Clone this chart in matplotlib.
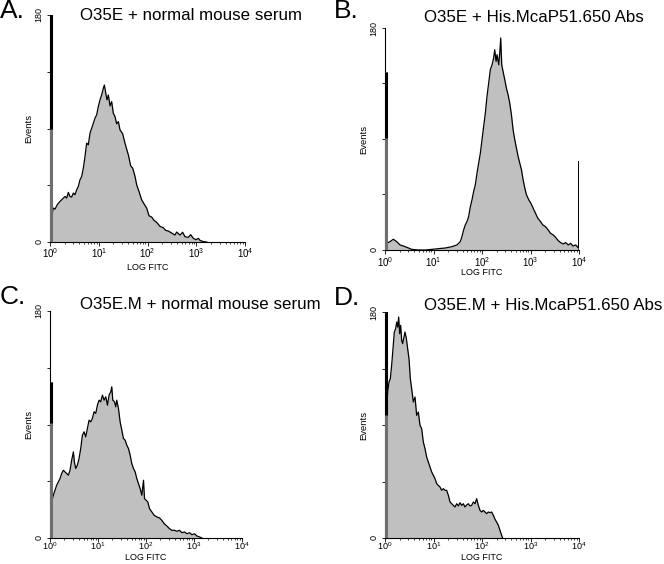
import numpy as np
import matplotlib
matplotlib.use("Agg")
import matplotlib.pyplot as plt
from matplotlib.ticker import FixedLocator, LogLocator, NullFormatter

plt.rcParams['font.family'] = ['Liberation Sans', 'DejaVu Sans']
plt.rcParams['mathtext.fontset'] = 'custom'
plt.rcParams['mathtext.rm'] = 'Liberation Sans'
plt.rcParams['mathtext.it'] = 'Liberation Sans'
plt.rcParams['mathtext.default'] = 'regular'

# ---------------- data (log10 FITC position, event counts) ----------------
titles = ["O35E + normal mouse serum", "O35E + His.McaP51.650 Abs",
          "O35E.M + normal mouse serum", "O35E.M + His.McaP51.650 Abs"]
letters = ["A.", "B.", "C.", "D."]

a_log = [0.034, 0.068, 0.103, 0.150, 0.205, 0.253, 0.308, 0.342, 0.376, 0.410, 0.444, 0.479,
         0.513, 0.547, 0.581, 0.615, 0.650, 0.684, 0.718, 0.752, 0.786, 0.821, 0.855, 0.889,
         0.923, 0.957, 0.991, 1.026, 1.060, 1.094, 1.115, 1.142, 1.169, 1.197, 1.231, 1.265,
         1.299, 1.333, 1.368, 1.402, 1.436, 1.491, 1.538, 1.573, 1.607, 1.655, 1.696, 1.744,
         1.778, 1.832, 1.880, 1.928, 1.983, 2.031, 2.085, 2.133, 2.188, 2.256, 2.325, 2.373,
         2.427, 2.496, 2.564, 2.598, 2.667, 2.721, 2.769, 2.838, 2.885, 2.940, 2.995, 3.043,
         3.077, 3.145, 3.214]
a_cnt = [20.3, 26.9, 26.1, 29.6, 32.2, 34.0, 36.1, 34.8, 39.3, 36.1, 35.6, 38.8,
         37.5, 41.4, 44.1, 49.3, 52.0, 58.6, 67.8, 78.4, 77.0, 86.3, 90.2, 94.2,
         98.2, 100.8, 107.4, 112.7, 116.6, 121.9, 124.5, 118.5, 112.7, 116.6, 107.9, 111.3,
         102.1, 99.5, 93.7, 95.5, 88.9, 85.8, 78.4, 73.6, 69.1, 60.4, 58.6, 52.0,
         45.4, 39.3, 33.5, 30.3, 26.9, 20.8, 19.8, 17.2, 15.6, 12.4, 11.3, 9.2,
         8.7, 7.1, 5.5, 7.9, 5.5, 7.7, 4.2, 3.7, 5.8, 2.9, 1.8, 2.9,
         1.3, 0.3, 0.0]

b_log = [0.034, 0.103, 0.172, 0.241, 0.310, 0.379, 0.448, 0.552, 0.690, 0.828, 0.966, 1.103,
         1.241, 1.379, 1.483, 1.552, 1.586, 1.621, 1.655, 1.690, 1.724, 1.759, 1.793, 1.828,
         1.862, 1.897, 1.931, 1.966, 2.000, 2.034, 2.069, 2.103, 2.138, 2.172, 2.207, 2.241,
         2.262, 2.290, 2.310, 2.345, 2.366, 2.386, 2.407, 2.434, 2.469, 2.503, 2.538, 2.572,
         2.607, 2.641, 2.676, 2.710, 2.745, 2.779, 2.814, 2.848, 2.883, 2.917, 2.966, 3.014,
         3.055, 3.103, 3.152, 3.207, 3.255, 3.310, 3.366, 3.414, 3.469, 3.517, 3.572, 3.621,
         3.676, 3.724, 3.779, 3.828, 3.876, 3.931, 3.979]
b_cnt = [5.4, 6.8, 8.7, 6.8, 4.1, 3.2, 2.2, 0.5, 0.0, 0.0, 0.5, 1.1,
         1.6, 2.7, 4.1, 6.8, 10.8, 16.2, 20.3, 23.0, 27.0, 35.0, 40.6, 47.4,
         52.8, 62.3, 70.4, 78.5, 89.3, 100.2, 111.0, 124.5, 135.4, 146.2, 150.2, 155.7,
         162.4, 152.9, 158.4, 150.2, 159.7, 171.9, 150.2, 144.8, 138.1, 131.3, 125.9, 119.1,
         109.6, 97.5, 89.3, 82.6, 75.8, 70.4, 65.0, 56.9, 50.1, 44.7, 40.6, 37.4,
         33.8, 29.8, 25.7, 23.0, 20.3, 18.9, 16.2, 13.5, 12.2, 10.3, 7.6, 6.0,
         4.9, 6.0, 4.1, 5.4, 3.2, 4.1, 2.2]

c_log = [0.035, 0.070, 0.104, 0.139, 0.174, 0.209, 0.243, 0.278, 0.313, 0.348, 0.383, 0.417,
         0.452, 0.487, 0.508, 0.536, 0.570, 0.605, 0.640, 0.675, 0.710, 0.744, 0.779, 0.814,
         0.849, 0.883, 0.918, 0.953, 0.988, 1.023, 1.057, 1.092, 1.127, 1.162, 1.197, 1.231,
         1.266, 1.287, 1.308, 1.343, 1.370, 1.391, 1.426, 1.461, 1.496, 1.530, 1.565, 1.600,
         1.635, 1.670, 1.704, 1.739, 1.774, 1.809, 1.843, 1.878, 1.913, 1.948, 1.969, 2.003,
         2.038, 2.073, 2.122, 2.170, 2.226, 2.282, 2.330, 2.379, 2.435, 2.490, 2.539, 2.595,
         2.643, 2.699, 2.748, 2.803, 2.852, 2.908, 2.957, 3.012, 3.061, 3.117, 3.165]
c_cnt = [28.6, 33.9, 37.9, 41.8, 44.5, 47.1, 51.1, 53.7, 52.4, 51.1, 49.8, 53.7,
         61.7, 68.3, 60.3, 55.1, 57.7, 63.0, 70.9, 81.5, 84.2, 80.2, 86.8, 93.4,
         92.1, 94.8, 100.1, 98.8, 105.3, 109.3, 108.0, 113.3, 109.3, 112.0, 105.3, 113.3,
         115.9, 119.9, 109.3, 108.0, 104.0, 109.3, 102.7, 92.1, 85.5, 78.9, 77.6, 73.6,
         70.9, 65.6, 59.0, 55.1, 52.4, 47.1, 43.1, 39.2, 33.9, 45.8, 31.2, 29.9,
         28.6, 23.3, 20.6, 18.0, 16.7, 15.9, 14.0, 11.4, 9.5, 7.4, 6.1, 6.1,
         5.3, 6.1, 4.2, 4.8, 3.4, 4.2, 2.6, 3.4, 1.6, 0.8, 0.0]

d_log = [0.034, 0.055, 0.082, 0.110, 0.137, 0.165, 0.192, 0.220, 0.241, 0.261, 0.282, 0.302,
         0.323, 0.344, 0.364, 0.385, 0.412, 0.440, 0.467, 0.495, 0.522, 0.550, 0.584, 0.619,
         0.653, 0.687, 0.722, 0.756, 0.790, 0.825, 0.859, 0.893, 0.928, 0.962, 0.997, 1.031,
         1.065, 1.100, 1.134, 1.168, 1.203, 1.237, 1.271, 1.306, 1.340, 1.375, 1.409, 1.443,
         1.478, 1.512, 1.546, 1.581, 1.615, 1.649, 1.684, 1.718, 1.753, 1.787, 1.821, 1.856,
         1.890, 1.924, 1.959, 1.993, 2.027, 2.062, 2.096, 2.131, 2.165, 2.199, 2.234, 2.268,
         2.302, 2.337, 2.371, 2.405, 2.426]
d_cnt = [103.0, 116.3, 124.2, 126.9, 137.5, 150.8, 164.0, 166.7, 172.0, 168.0, 176.0, 162.7,
         169.4, 157.4, 154.8, 158.9, 164.0, 158.9, 150.8, 142.8, 126.9, 118.9, 108.3, 112.3,
         97.7, 100.3, 89.7, 87.1, 76.5, 71.1, 64.5, 60.5, 56.5, 52.6, 49.9, 47.3,
         43.3, 41.9, 40.6, 38.0, 39.3, 38.0, 38.0, 34.0, 28.7, 27.3, 26.0, 24.7,
         27.3, 25.5, 28.1, 26.0, 27.3, 24.7, 26.3, 27.3, 25.5, 26.0, 28.7, 27.3,
         31.3, 26.0, 22.0, 20.7, 22.0, 20.7, 19.4, 20.7, 20.2, 20.7, 18.1, 14.9,
         12.7, 10.1, 6.1, 2.1, 0.0]

# first-channel (10^0) pile-up spike: top count and where its dark edge starts
first_channel = [200, 144, 124, 200]
first_edge = [90, 91, 91, 98]
# last-channel (10^4) pile-up spike in panel B
b_last_channel = 71.7

series_log = [a_log, b_log, c_log, d_log]
series_cnt = [a_cnt, b_cnt, c_cnt, d_cnt]

# ---------------- layout ----------------
W, H = 664, 564
fig = plt.figure(figsize=(W / 100, H / 100), dpi=100)

# axes boxes in pixels: left, right, top, bottom
boxes = [(50, 245, 15, 242), (385, 579, 28, 250), (50, 242, 311, 538), (385, 579, 312, 538)]
letter_pos = [(0, 18.5), (334, 17.5), (0, 304), (334, 305)]
title_pos = [(80, 20.5), (424, 21.5), (80, 309), (424, 309.5)]
xtick_pad = [0.0, 1.0, -1.5, -1.5]
xlabel_top = [263, 268, 553, 553]   # pixel row of the top of "LOG FITC"

fill_col = '#c0c0c0'
for i in range(4):
    l, r, t, b = boxes[i]
    ax = fig.add_axes([l / W, 1 - b / H, (r - l) / W, (b - t) / H])
    x = np.power(10.0, np.array(series_log[i]))
    y = np.array(series_cnt[i])
    x_full = np.concatenate([[1.0], x])
    y_full = np.concatenate([[y[0]], y])
    ax.fill_between(x_full, 0, y_full, color=fill_col, lw=0, zorder=1)
    ax.plot(x_full, y_full, color='black', lw=0.9, zorder=2)
    # first channel spike
    xs = 10 ** 0.012
    ax.plot([xs, xs], [0, first_channel[i]], color='#6e6e6e', lw=2.2, zorder=3,
            solid_capstyle='butt')
    ax.plot([xs, xs], [first_edge[i], first_channel[i]], color='black', lw=2.2, zorder=4,
            solid_capstyle='butt')
    if i == 1:
        xe = 10 ** 3.995
        ax.fill_between([10 ** 3.979, xe], 0, [2.2, 2.2], color=fill_col, lw=0)
        ax.plot([10 ** 3.979, xe, xe, 10 ** 3.999], [2.2, 2.2, b_last_channel, 0],
                color='black', lw=0.9, zorder=3)

    ax.set_xscale('log')
    ax.set_xlim(1, 1e4)
    ax.set_ylim(0, 180)
    for s in ['top', 'right']:
        ax.spines[s].set_visible(False)
    ax.spines['left'].set_linewidth(0.8)
    ax.spines['bottom'].set_linewidth(0.8)
    ax.xaxis.set_major_locator(FixedLocator([1, 10, 100, 1000, 10000]))
    ax.set_xticklabels([r'$10^{0}$', r'$10^{1}$', r'$10^{2}$', r'$10^{3}$', r'$10^{4}$'])
    ax.xaxis.set_minor_locator(LogLocator(base=10, subs=np.arange(2, 10), numticks=20))
    ax.xaxis.set_minor_formatter(NullFormatter())
    ax.set_yticks([0, 45, 90, 135, 180])
    ax.set_yticklabels(['0', '', '', '', '180'])
    ax.tick_params(axis='x', which='major', length=3, width=0.6,
                   labelsize=7 if i < 2 else 6.6, pad=xtick_pad[i])
    ax.tick_params(axis='x', which='minor', length=1.5, width=0.5)
    ax.tick_params(axis='y', which='major', length=2.5, width=0.6, labelsize=6.5, pad=2,
                   labelrotation=90)
    for lab in ax.get_yticklabels():
        lab.set_verticalalignment('center')
    ax.set_xlabel('LOG FITC', fontsize=6.5)
    ax.xaxis.label.set_verticalalignment('top')
    ax.xaxis.set_label_coords(0.5, (b - xlabel_top[i]) / (b - t))
    ax.set_ylabel('Events', fontsize=6.8, labelpad=1)

    fig.text(letter_pos[i][0] / W, 1 - letter_pos[i][1] / H, letters[i], fontsize=19,
             ha='left', va='baseline')
    fig.text(title_pos[i][0] / W, 1 - title_pos[i][1] / H, titles[i], fontsize=12.2,
             ha='left', va='baseline')

fig.savefig('out.png', dpi=100)
